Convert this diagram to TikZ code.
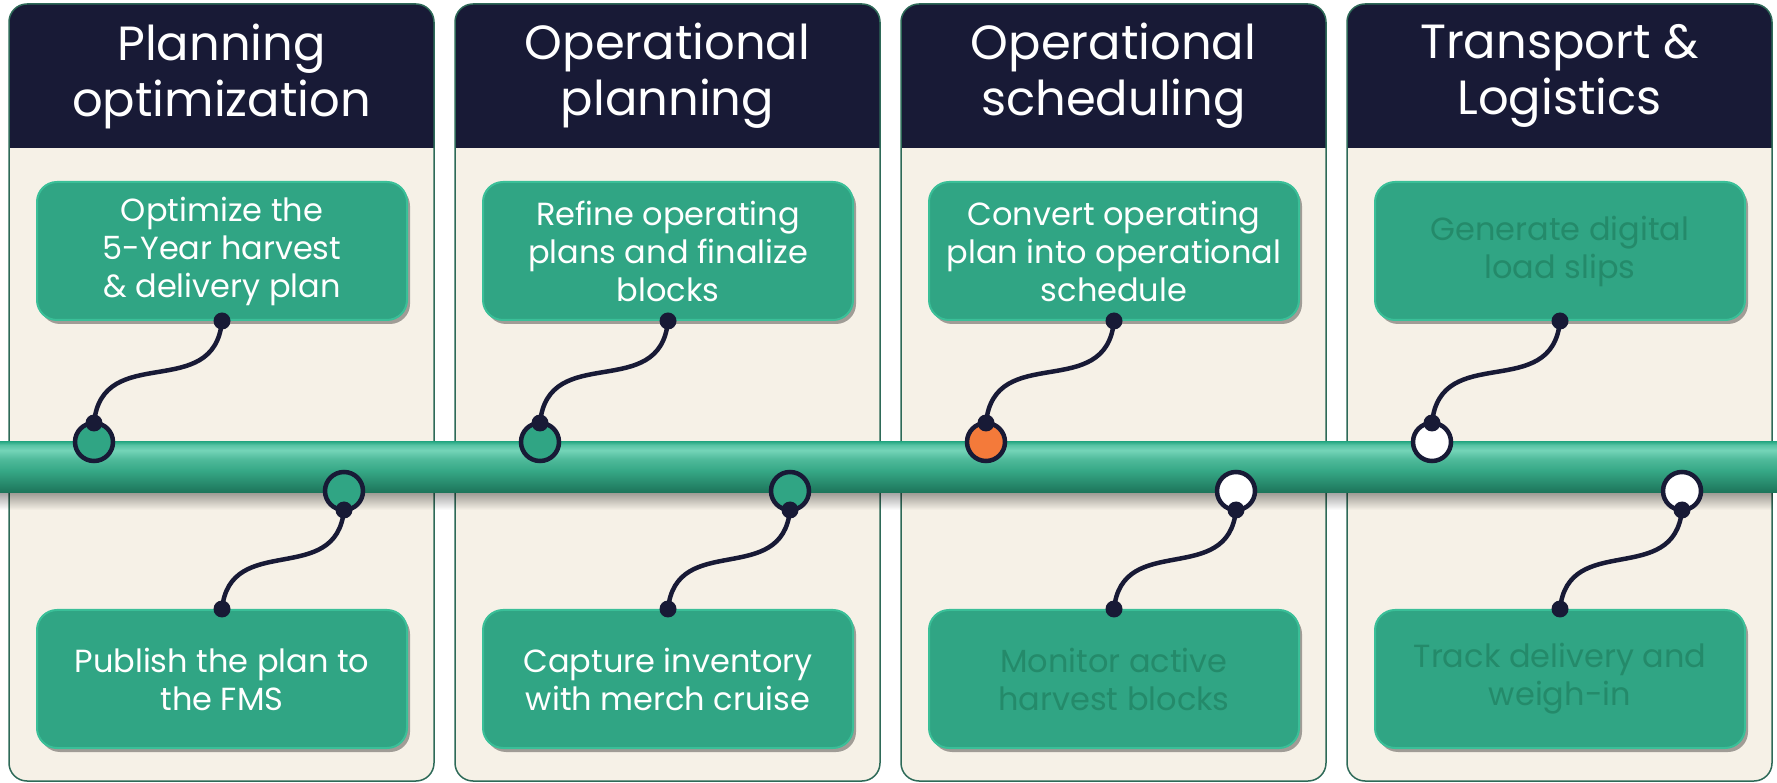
\documentclass[tikz,border=0pt]{standalone}
\usepackage{fontspec}
\setmainfont{Poppins}
\usepackage{xcolor}
\usetikzlibrary{shadows,fadings}

\definecolor{navy}{HTML}{181A36}
\definecolor{cream}{HTML}{F6F1E7}
\definecolor{colline}{HTML}{2E6A58}
\definecolor{boxgreen}{HTML}{30A584}
\definecolor{boxedge}{HTML}{3ABF98}
\definecolor{dimtext}{HTML}{248A6A}
\definecolor{dotorange}{HTML}{F47A3A}
\definecolor{bardark}{HTML}{1C7359}
\definecolor{barmid}{HTML}{36A886}
\definecolor{barlight}{HTML}{74D4B8}
\definecolor{bartop}{HTML}{2EAC88}

\pgfdeclareverticalshading{barshade}{100bp}{color(0bp)=(bardark); color(25bp)=(bardark); color(47bp)=(barmid); color(58bp)=(barmid!60!barlight); color(67bp)=(barlight); color(72bp)=(barlight!60!bartop); color(75bp)=(bartop); color(100bp)=(bartop)}

\tikzset{
  column/.style={draw=colline, line width=1.5pt, rounded corners=18pt},
  header/.style={text=white, align=center, font=\fontsize{48}{56}\selectfont},
  task/.style={fill=boxgreen, draw=boxedge, line width=2pt, rounded corners=20pt,
    minimum width=370pt, minimum height=138pt, align=center, text=white,
    font=\fontsize{32}{38}\selectfont,
    drop shadow={shadow xshift=3pt, shadow yshift=-4pt, opacity=.35, fill=black}},
  dim/.style={text=dimtext},
  milestone/.style={circle, draw=navy, line width=4.5pt, minimum size=38pt, inner sep=0pt, outer sep=0pt},
  wire/.style={draw=navy, line width=4.5pt}
}

\begin{document}
\begin{tikzpicture}[x=1pt,y=1pt]
\useasboundingbox[fill=white] (0,0) rectangle (1777,782);

% columns
\foreach \cx in {9,455,901,1347}{
  \begin{scope}
    \clip[rounded corners=18pt] (\cx,1) rectangle ++(425,777);
    \fill[cream] (\cx,1) rectangle ++(425,777);
    \fill[navy] (\cx,634) rectangle ++(425,144);
  \end{scope}
  \draw[column] (\cx,1) rectangle ++(425,777);
}
\node[header] (h1) at (221.5,706) {Planning\\optimization};
\node[header] (h2) at (667.5,706) {Operational\\planning};
\node[header] (h3) at (1113.5,706) {Operational\\scheduling};
\node[header] (h4) at (1559.5,706) {Transport \&\\Logistics};

% tasks
\node[task] (opt) at (222,531) {Optimize the\\5-Year harvest\\\& delivery plan};
\node[task] (pub) at (222,103) {Publish the plan to\\the FMS};
\node[task] (ref) at (668,531) {Refine operating\\plans and finalize\\blocks};
\node[task] (cap) at (668,103) {Capture inventory\\with merch cruise};
\node[task] (conv) at (1114,531) {Convert operating\\plan into operational\\schedule};
\node[task, dim] (mon) at (1114,103) {Monitor active\\harvest blocks};
\node[task, dim] (gen) at (1560,531) {Generate digital\\load slips};
\node[task, dim] (trk) at (1560,103) {Track delivery and\\weigh-in};

% timeline bar
\fill[black, opacity=.35, path fading=south] (0,272) rectangle (1777,289);
\shade[shading=barshade] (0,289) rectangle (1777,340);

% milestones
\node[milestone, fill=boxgreen] (m1a) at (94,340) {};
\node[milestone, fill=boxgreen] (m1b) at (344,291) {};
\node[milestone, fill=boxgreen] (m2a) at (540,340) {};
\node[milestone, fill=boxgreen] (m2b) at (790,291) {};
\node[milestone, fill=dotorange] (m3a) at (986,340) {};
\node[milestone, fill=white] (m3b) at (1236,291) {};
\node[milestone, fill=white] (m4a) at (1432,340) {};
\node[milestone, fill=white] (m4b) at (1682,291) {};

% connectors
\draw[wire] (opt.south) .. controls +(-8,-82) and +(8,82) .. (m1a.north);
\draw[wire] (m1b.south) .. controls +(-8,-78) and +(8,78) .. (pub.north);
\draw[wire] (ref.south) .. controls +(-8,-82) and +(8,82) .. (m2a.north);
\draw[wire] (m2b.south) .. controls +(-8,-78) and +(8,78) .. (cap.north);
\draw[wire] (conv.south) .. controls +(-8,-82) and +(8,82) .. (m3a.north);
\draw[wire] (m3b.south) .. controls +(-8,-78) and +(8,78) .. (mon.north);
\draw[wire] (gen.south) .. controls +(-8,-82) and +(8,82) .. (m4a.north);
\draw[wire] (m4b.south) .. controls +(-8,-78) and +(8,78) .. (trk.north);
\foreach \p in {opt.south,m1a.north,m1b.south,pub.north,ref.south,m2a.north,m2b.south,cap.north,
  conv.south,m3a.north,m3b.south,mon.north,gen.south,m4a.north,m4b.south,trk.north}
  \fill[navy] (\p) circle (8.5pt);
\end{tikzpicture}
\end{document}
